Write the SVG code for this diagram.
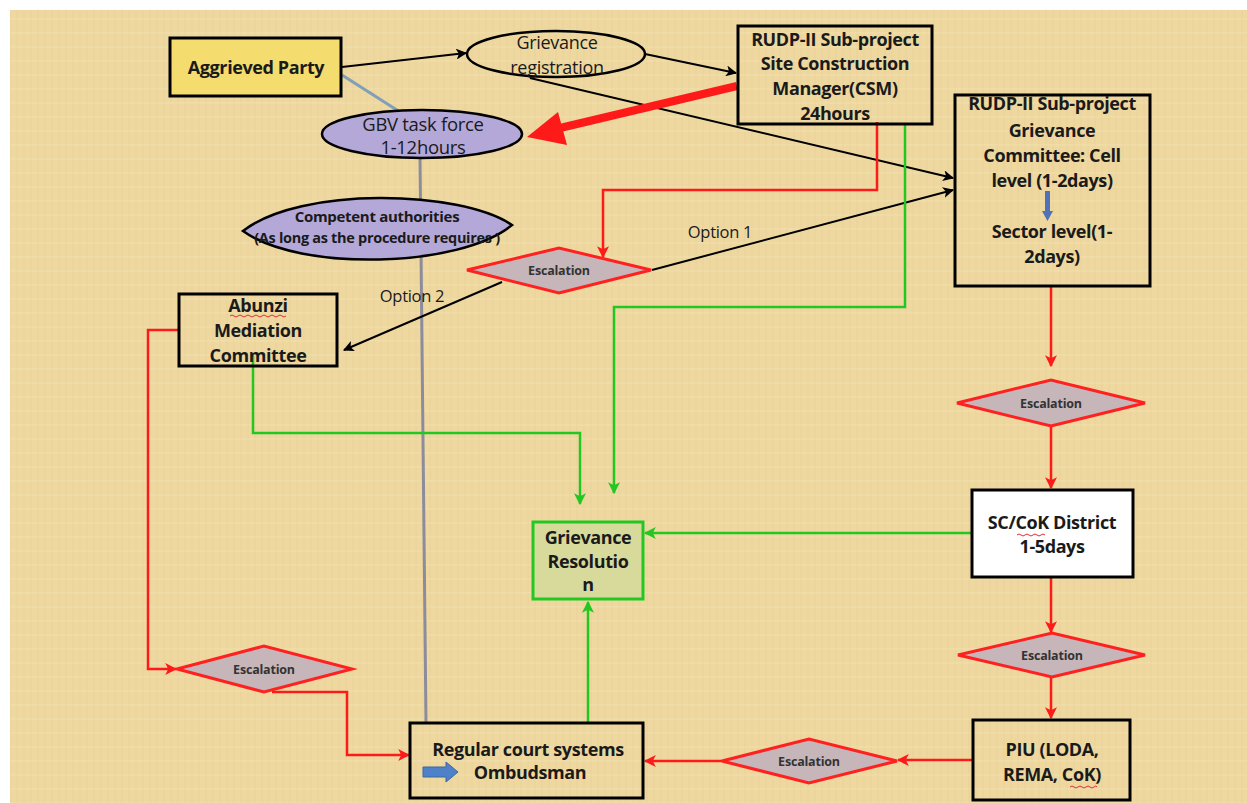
<svg xmlns="http://www.w3.org/2000/svg" width="1247" height="803" viewBox="0 0 1247 803">
<defs>
<pattern id="tex" width="14" height="14" patternUnits="userSpaceOnUse">
<rect width="14" height="14" fill="#EED8A0"/>
<path d="M3,0 V14 M10,0 V14" stroke="#E5CD92" stroke-width="1" opacity="0.6"/>
<path d="M0,5 H14" stroke="#F4E2B2" stroke-width="1" opacity="0.6"/>
</pattern>
<marker id="ak" viewBox="0 0 10 10" refX="9" refY="5" markerWidth="11" markerHeight="11" markerUnits="userSpaceOnUse" orient="auto"><path d="M0,0 L10,5 L0,10 L2.5,5 z" fill="#000"/></marker>
<marker id="ar" viewBox="0 0 10 10" refX="9" refY="5" markerWidth="12" markerHeight="12" markerUnits="userSpaceOnUse" orient="auto"><path d="M0,0 L10,5 L0,10 L2.5,5 z" fill="#FF1A1A"/></marker>
<marker id="ag" viewBox="0 0 10 10" refX="9" refY="5" markerWidth="12" markerHeight="12" markerUnits="userSpaceOnUse" orient="auto"><path d="M0,0 L10,5 L0,10 L2.5,5 z" fill="#22C722"/></marker>
</defs>
<style>
text{font-family:"Open Sans","Liberation Sans",sans-serif;fill:#1a1a1a;text-anchor:middle}
.b{font-weight:bold;font-size:18px;letter-spacing:-0.4px}
.n{font-size:18px;letter-spacing:-0.3px}
.esc{font-weight:bold;font-size:12.5px;fill:#333;letter-spacing:-0.2px}
.box{fill:none;stroke:#000;stroke-width:3}
.dia{fill:#C6B6BA;stroke:#FF2020;stroke-width:3}
.k{fill:none;stroke:#000;stroke-width:2;marker-end:url(#ak)}
.r{fill:none;stroke:#FF1A1A;stroke-width:2.5;marker-end:url(#ar)}
.g{fill:none;stroke:#22C722;stroke-width:2.5;marker-end:url(#ag)}
.sq{fill:none;stroke:#E03030;stroke-width:1}
</style>
<rect x="0" y="0" width="1247" height="803" fill="#fff"/>
<rect x="10" y="10" width="1237" height="793" fill="url(#tex)"/>

<g id="connectors">
<path d="M342,75 L400,112" stroke="#7FA0B8" stroke-width="3" fill="none"/>
<path d="M420,158 L426,722" stroke="#8C8C9C" stroke-width="3" fill="none"/>
<path class="k" d="M342,67 L466,53"/>
<path class="k" d="M645,54 L736,73"/>
<path class="k" d="M530,78 L953,178"/>
<path class="k" d="M652,270 L953,190"/>
<path class="k" d="M502,282 L344,350"/>
<path d="M737,86 L560,128" stroke="#FF1A1A" stroke-width="8" fill="none"/>
<polygon points="527,137 567,145 558,112" fill="#FF1A1A"/>
<path class="r" d="M877,122 V190 H603 V257"/>
<path class="g" d="M905,124 V307 H614 V493"/>
<path class="g" d="M253,355 V433 H580 V504"/>
<path class="g" d="M972,533 H645"/>
<path class="g" d="M588,722 V602"/>
<path class="r" d="M1051,287 V366"/>
<path class="r" d="M1051,426 V488"/>
<path class="r" d="M1051,577 V632"/>
<path class="r" d="M1051,677 V718"/>
<path class="r" d="M973,760 H898"/>
<path class="r" d="M722,761 H645"/>
<path class="r" d="M180,330 H148 V669 H176"/>
<path class="r" d="M272,692 H347 V755 H409"/>
<text x="720" y="238" class="n" style="font-size:16.5px">Option 1</text>
<text x="412" y="302" class="n" style="font-size:16.5px">Option 2</text>
</g>

<g id="aggrieved">
<rect x="170" y="38" width="171" height="58" fill="#F5DC6E" stroke="#000" stroke-width="3"/>
<text x="256" y="74" class="b">Aggrieved Party</text>
</g>

<g id="registration">
<ellipse cx="556" cy="54" rx="89" ry="23" fill="none" stroke="#000" stroke-width="2.5"/>
<text x="557" y="49" class="n">Grievance</text>
<text x="557" y="74" class="n">registration</text>
</g>

<g id="csm">
<rect x="738" y="26" width="194" height="98" class="box"/>
<text x="835" y="46" class="b">RUDP-II Sub-project</text>
<text x="835" y="70" class="b">Site Construction</text>
<text x="835" y="95" class="b">Manager(CSM)</text>
<text x="835" y="120" class="b">24hours</text>
</g>

<g id="committee">
<rect x="955" y="95" width="195" height="191" class="box"/>
<text x="1052" y="110" class="b">RUDP-II Sub-project</text>
<text x="1052" y="137" class="b">Grievance</text>
<text x="1052" y="162" class="b">Committee: Cell</text>
<text x="1052" y="187" class="b">level (1-2days)</text>
<path d="M1045,191 H1050 V211 H1053 L1047.5,221 L1042,211 H1045 Z" fill="#4F72B8"/>
<text x="1052" y="238" class="b">Sector level(1-</text>
<text x="1052" y="263" class="b">2days)</text>
</g>

<g id="gbv">
<ellipse cx="422" cy="134" rx="100" ry="24" fill="#B4A8D8" stroke="#000" stroke-width="2.5"/>
<text x="423" y="131" class="n" style="font-size:18.5px">GBV task force</text>
<text x="423" y="154" class="n" style="font-size:18.5px">1-12hours</text>
</g>

<g id="competent">
<path d="M243,231 C300,186 460,190 512,225 C460,268 300,272 243,231 Z" fill="#B4A8D8" stroke="#000" stroke-width="2.5"/>
<text x="377" y="222" class="b" style="font-size:15px;letter-spacing:-0.3px">Competent authorities</text>
<text x="377" y="243" class="b" style="font-size:14.5px;letter-spacing:-0.3px">(As long as the procedure requires )</text>
</g>

<g id="esc1">
<polygon points="467,270 559,248 651,270 559,293" class="dia"/>
<text x="559" y="275" class="esc">Escalation</text>
</g>

<g id="abunzi">
<rect x="179" y="294" width="158" height="72" class="box"/>
<text x="258" y="312" class="b">Abunzi</text>
<path class="sq" d="M230,316 q2,-2 4,0 t4,0 t4,0 t4,0 t4,0 t4,0 t4,0 t4,0 t4,0 t4,0 t4,0 t4,0 t4,0 t4,0"/>
<text x="258" y="337" class="b">Mediation</text>
<text x="258" y="362" class="b">Committee</text>
</g>

<g id="esc2">
<polygon points="957,403 1051,380 1145,403 1051,426" class="dia"/>
<text x="1051" y="408" class="esc">Escalation</text>
</g>

<g id="sccok">
<rect x="972" y="490" width="161" height="87" fill="#fff" stroke="#000" stroke-width="3"/>
<text x="1052" y="529" class="b">SC/CoK District</text>
<path class="sq" d="M1017,535 q2,-2 4,0 t4,0 t4,0 t4,0 t4,0 t4,0 t4,0"/>
<text x="1052" y="553" class="b">1-5days</text>
</g>

<g id="resolution">
<rect x="533" y="522" width="110" height="77" fill="#D8DA9C" stroke="#22C722" stroke-width="3"/>
<text x="588" y="544" class="b">Grievance</text>
<text x="588" y="568" class="b">Resolutio</text>
<text x="588" y="591" class="b">n</text>
</g>

<g id="esc3">
<polygon points="958,655 1052,633 1145,655 1052,677" class="dia"/>
<text x="1052" y="660" class="esc">Escalation</text>
</g>

<g id="piu">
<rect x="973" y="720" width="157" height="80" class="box"/>
<text x="1052" y="756" class="b">PIU (LODA,</text>
<text x="1052" y="781" class="b">REMA, CoK)</text>
<path class="sq" d="M1070,787 q2,-2 4,0 t4,0 t4,0 t4,0 t4,0 t4,0 t3,0"/>
</g>

<g id="esc4">
<polygon points="722,761 809,739 897,761 809,783" class="dia"/>
<text x="809" y="766" class="esc">Escalation</text>
</g>

<g id="court">
<rect x="410" y="723" width="233" height="75" class="box"/>
<text x="528" y="756" class="b">Regular court systems</text>
<path d="M423,767 H446 V762 L458,772 L446,782 V777 H423 Z" fill="#4F81C8" stroke="#3A66A8" stroke-width="1"/>
<text x="530" y="779" class="b">Ombudsman</text>
</g>

<g id="esc5">
<polygon points="177,669 264,646 352,669 264,692" class="dia"/>
<text x="264" y="674" class="esc">Escalation</text>
</g>
</svg>
